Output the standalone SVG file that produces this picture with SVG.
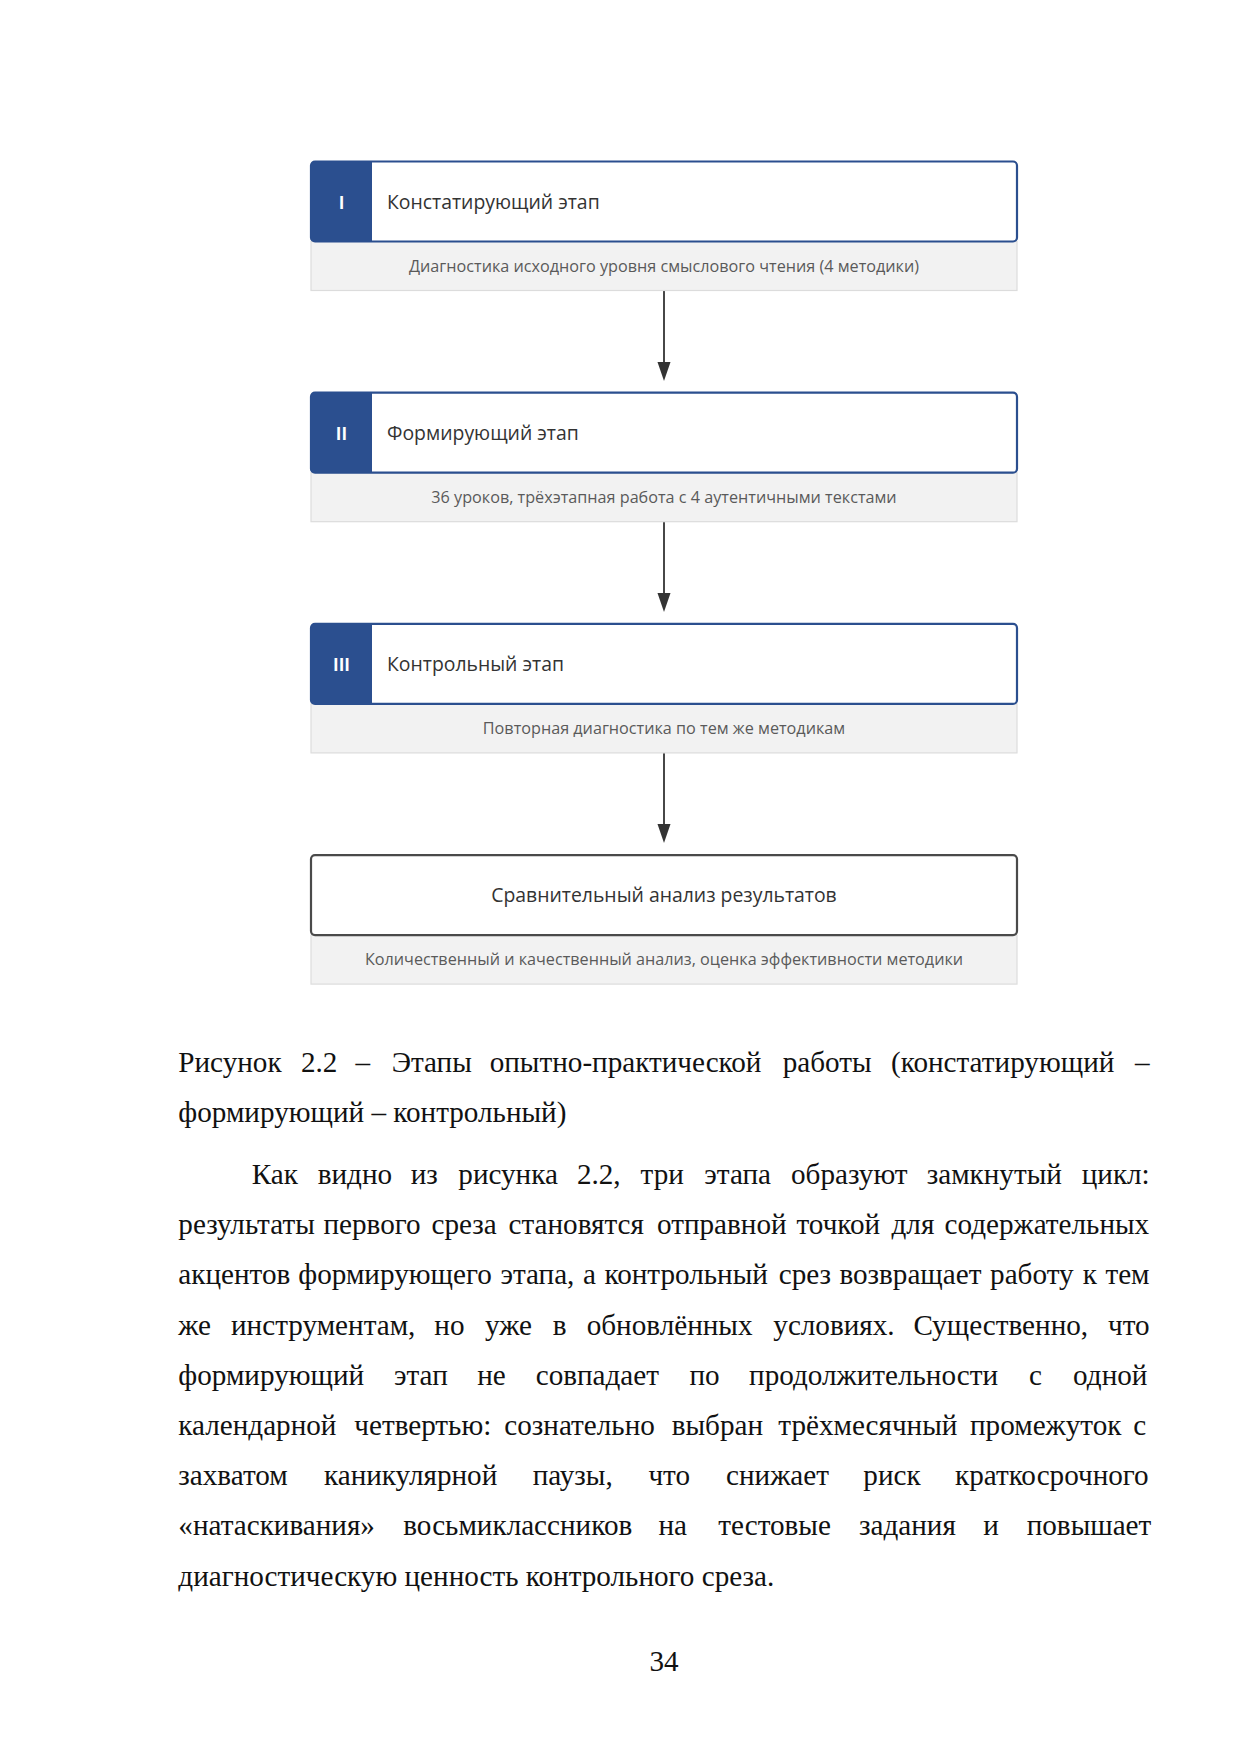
<svg xmlns="http://www.w3.org/2000/svg" width="1241" height="1754" viewBox="0 0 1241 1754">
<defs>
<style>
.main{fill:#fff;stroke:#2b4f8f;stroke-width:2.2}
.main4{fill:#fff;stroke:#4a4a4a;stroke-width:2.2}
.strip{fill:#2b4f8f}
.band{fill:#f2f2f2;stroke:#dcdcdc;stroke-width:1.2}
.num{font-family:"Open Sans","DejaVu Sans",sans-serif;font-size:17px;font-weight:700;fill:#fff;text-anchor:middle}
.ttl{font-family:"Open Sans","DejaVu Sans",sans-serif;font-size:19.4px;fill:#333}
.sub{font-family:"Open Sans","DejaVu Sans",sans-serif;font-size:16.2px;fill:#5a5a5a;text-anchor:middle}
.conn{stroke:#333;stroke-width:1.8;fill:none}
.body{font-family:"Liberation Serif","Times New Roman",serif;font-size:29.17px;fill:#111}
</style>
</defs>
<rect width="1241" height="1754" fill="#fff"/>

<g id="connectors">
<line class="conn" x1="664" y1="290.5" x2="664" y2="368"/>
<path d="M657.5,362 L670.5,362 L664,381 z" fill="#333"/>
<line class="conn" x1="664" y1="521.5" x2="664" y2="599"/>
<path d="M657.5,593 L670.5,593 L664,612 z" fill="#333"/>
<line class="conn" x1="664" y1="752.5" x2="664" y2="830"/>
<path d="M657.5,824 L670.5,824 L664,843 z" fill="#333"/>
</g>

<g id="node1">
<rect class="band" x="311" y="241.5" width="706" height="49"/>
<rect class="main" x="311" y="161.5" width="706" height="80" rx="4"/>
<path class="strip" d="M315,161.5 H372 V241.5 H315 Q311,241.5 311,237.5 V165.5 Q311,161.5 315,161.5 z"/>
<text class="num" x="341.5" y="209">I</text>
<text class="ttl" x="387" y="209">Констатирующий этап</text>
<text class="sub" x="664" y="271.5">Диагностика исходного уровня смыслового чтения (4 методики)</text>
</g>

<g id="node2">
<rect class="band" x="311" y="472.7" width="706" height="49"/>
<rect class="main" x="311" y="392.7" width="706" height="80" rx="4"/>
<path class="strip" d="M315,392.7 H372 V472.7 H315 Q311,472.7 311,468.7 V396.7 Q311,392.7 315,392.7 z"/>
<text class="num" x="341.5" y="440">II</text>
<text class="ttl" x="387" y="440">Формирующий этап</text>
<text class="sub" x="664" y="502.5">36 уроков, трёхэтапная работа с 4 аутентичными текстами</text>
</g>

<g id="node3">
<rect class="band" x="311" y="703.9" width="706" height="49"/>
<rect class="main" x="311" y="623.9" width="706" height="80" rx="4"/>
<path class="strip" d="M315,623.9 H372 V703.9 H315 Q311,703.9 311,699.9 V627.9 Q311,623.9 315,623.9 z"/>
<text class="num" x="341.5" y="671">III</text>
<text class="ttl" x="387" y="671">Контрольный этап</text>
<text class="sub" x="664" y="733.5">Повторная диагностика по тем же методикам</text>
</g>

<g id="node4">
<rect class="band" x="311" y="935.1" width="706" height="49"/>
<rect class="main4" x="311" y="855.1" width="706" height="80" rx="4"/>
<text class="ttl" x="664" y="902" text-anchor="middle">Сравнительный анализ результатов</text>
<text class="sub" x="664" y="964.5">Количественный и качественный анализ, оценка эффективности методики</text>
</g>

<g id="caption" class="body">
<text y="1071.5"><tspan x="178.3">Рисунок</tspan><tspan x="301">2.2</tspan><tspan x="355.5">–</tspan><tspan x="391.7">Этапы</tspan><tspan x="489.7">опытно-практической</tspan><tspan x="782.7">работы</tspan><tspan x="891">(констатирующий</tspan><tspan x="1135">–</tspan></text>
<text x="178.3" y="1121.7">формирующий – контрольный)</text>
</g>

<g id="paragraph" class="body">
<text y="1184"><tspan x="251.7">Как</tspan><tspan x="317.7">видно</tspan><tspan x="410.7">из</tspan><tspan x="458.3">рисунка</tspan><tspan x="576.9">2.2,</tspan><tspan x="640.6">три</tspan><tspan x="704.3">этапа</tspan><tspan x="791">образуют</tspan><tspan x="926.7">замкнутый</tspan><tspan x="1081.7">цикл:</tspan></text>
<text y="1234.2"><tspan x="178.3">результаты</tspan><tspan x="323.5">первого</tspan><tspan x="431.5">среза</tspan><tspan x="508.5">становятся</tspan><tspan x="657">отправной</tspan><tspan x="796.5">точкой</tspan><tspan x="891.5">для</tspan><tspan x="944.5">содержательных</tspan></text>
<text y="1284.4"><tspan x="178.3">акцентов</tspan><tspan x="298.3">формирующего</tspan><tspan x="500.4">этапа,</tspan><tspan x="583">а</tspan><tspan x="604.5">контрольный</tspan><tspan x="778.7">срез</tspan><tspan x="839.4">возвращает</tspan><tspan x="990.1">работу</tspan><tspan x="1082.7">к</tspan><tspan x="1105.4">тем</tspan></text>
<text y="1334.6"><tspan x="178.3">же</tspan><tspan x="231">инструментам,</tspan><tspan x="434.3">но</tspan><tspan x="485">уже</tspan><tspan x="552.7">в</tspan><tspan x="586.7">обновлённых</tspan><tspan x="773.3">условиях.</tspan><tspan x="913.4">Существенно,</tspan><tspan x="1108">что</tspan></text>
<text y="1384.8"><tspan x="178.3">формирующий</tspan><tspan x="394">этап</tspan><tspan x="477.2">не</tspan><tspan x="535.7">совпадает</tspan><tspan x="689.4">по</tspan><tspan x="749.1">продолжительности</tspan><tspan x="1029">с</tspan><tspan x="1073.1">одной</tspan></text>
<text y="1435"><tspan x="178.3">календарной</tspan><tspan x="354.3">четвертью:</tspan><tspan x="504.3">сознательно</tspan><tspan x="671.7">выбран</tspan><tspan x="778.3">трёхмесячный</tspan><tspan x="970">промежуток</tspan><tspan x="1133.3">с</tspan></text>
<text y="1485.2"><tspan x="178.3">захватом</tspan><tspan x="324">каникулярной</tspan><tspan x="532.7">паузы,</tspan><tspan x="648.4">что</tspan><tspan x="726">снижает</tspan><tspan x="863.3">риск</tspan><tspan x="955">краткосрочного</tspan></text>
<text y="1535.4"><tspan x="178.3">«натаскивания»</tspan><tspan x="403.3">восьмиклассников</tspan><tspan x="658.5">на</tspan><tspan x="718.3">тестовые</tspan><tspan x="859">задания</tspan><tspan x="983.3">и</tspan><tspan x="1026.7">повышает</tspan></text>
<text x="178.3" y="1585.6">диагностическую ценность контрольного среза.</text>
</g>

<text class="body" x="664" y="1671" text-anchor="middle">34</text>
</svg>
